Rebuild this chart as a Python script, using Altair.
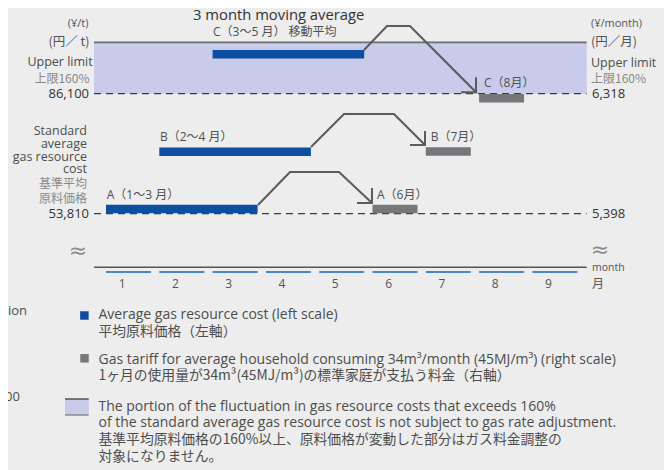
import altair as alt
import pandas as pd

# ---------------- data ----------------
months = [1, 2, 3, 4, 5, 6, 7, 8, 9]
month_labels = ["1", "2", "3", "4", "5", "6", "7", "8", "9"]

blue_names = ["A", "B", "C"]
blue_start = [1, 2, 3]
blue_end = [3, 4, 5]
blue_value = [55100, 70500, 96700]          # average gas resource cost, yen/t (left scale)

gray_names = ["A", "B", "C"]
gray_month = [6, 7, 8]
gray_value = [5434, 5875, 6283]             # gas tariff, yen/month (right scale)

std_left, limit_left = 53810, 86100
std_right, limit_right = 5398, 6318
frame_top_left = 99900

arrow_id = ["A"] * 4 + ["B"] * 4 + ["C"] * 4
arrow_order = [0, 1, 2, 3] * 3
arrow_month = [3.43, 4.03, 4.95, 5.568, 4.424, 5.043, 5.981, 6.563, 5.418, 5.85, 6.281, 7.52]
arrow_yen = [56150, 65030, 65030, 56690, 71760, 80640, 80640, 72300, 97860, 104320, 104320, 86480]

head_id = ["A"] * 3 + ["B"] * 3 + ["C"] * 3
head_order = [0, 1, 2] * 3
head_month = [5.287, 5.568, 5.568, 6.281, 6.563, 6.563, 7.238, 7.52, 7.52]
head_yen = [56690, 56690, 60725, 72300, 72300, 76060, 86480, 86480, 90510]

bar_label_text = ["A（1〜3 月）", "B（2〜4 月）", "C（3〜5 月） 移動平均",
                  "A（6月）", "B（7月）", "C（8月）"]
bar_label_month = [0.591, 1.591, 2.585, 5.662, 6.670, 7.670]
bar_label_yen = [58840, 74530, 102620, 58840, 74530, 88900]

title_text = "3 month moving average"
left_tick_text = ["86,100", "53,810"]
left_tick_value = [86100, 53810]
right_tick_text = ["6,318", "5,398"]
right_tick_value = [6318, 5398]

left_unit = ["(¥/t)", "(円／ t)"]
left_limit = ["Upper limit", "上限160%"]
left_std_en = ["Standard", "average", "gas resource", "cost"]
left_std_ja = ["基準平均", "原料価格"]
right_unit = ["(¥/month)", "(円／月)"]
right_limit = ["Upper limit", "上限160%"]
axis_unit = ["month", "月"]

legend_blue = ["Average gas resource cost (left scale)", "平均原料価格（左軸）"]
legend_gray = ["Gas tariff for average household consuming 34m³/month (45MJ/m³) (right scale)",
               "1ヶ月の使用量が34m³(45MJ/m³)の標準家庭が支払う料金（右軸）"]
legend_band = ["The portion of the fluctuation in gas resource costs that exceeds 160%",
               "of the standard average gas resource cost is not subject to gas rate adjustment.",
               "基準平均原料価格の160%以上、原料価格が変動した部分はガス料金調整の",
               "対象になりません。"]
cut_text = ["ation", "000"]

# ---------------- layout ----------------
W, H = 656, 462
FONT = "'Open Sans', 'Noto Sans CJK JP', sans-serif"
JFONT = "'Noto Sans CJK JP', sans-serif"
PX_PER_MONTH = 53.3
X_M1 = 120.5                                   # chart px of month-1 centre
XD0 = 1 - X_M1 / PX_PER_MONTH
XD1 = XD0 + W / PX_PER_MONTH
PPY = 120.0 / (limit_left - std_left)          # px per yen (left)
Y_STD = 205.7                                  # chart px of 53,810
YTOP = std_left + Y_STD / PPY
YBOT = std_left - (H - Y_STD) / PPY
XMIN, XMAX = 0.353, 9.597
HALF = 0.422

XS = alt.Scale(domain=[XD0, XD1], nice=False, zero=False)
YS = alt.Scale(domain=[YBOT, YTOP], nice=False, zero=False)

BLUE = "#0b4ea2"
GRAY = "#76777a"
LAV = "#c8cbe9"
LINE = "#5b5b5b"
TXT = "#4d4d4d"
LIGHT = "#8a8a8a"

to_left = f"{std_left} + (datum.r - {std_right}) * {(limit_left - std_left) / (limit_right - std_right)}"

def X(f):
    return alt.X(f, type="quantitative", scale=XS, axis=None)

def Y(f):
    return alt.Y(f, type="quantitative", scale=YS, axis=None)

def label(txt, x, y, size=12, color=TXT, align="left", baseline="middle", font=FONT):
    return alt.Chart(pd.DataFrame({"t": [txt]})).mark_text(
        align=align, baseline=baseline, fontSize=size, color=color, font=font
    ).encode(x=alt.value(x - 8), y=alt.value(y - 8), text="t:N")

layers = []

frame = pd.DataFrame({"x": [XMIN], "x2": [XMAX], "lo": [limit_left], "hi": [frame_top_left]})
layers.append(alt.Chart(frame).mark_rect(color=LAV).encode(x=X("x"), x2="x2", y=Y("lo"), y2="hi"))
layers.append(alt.Chart(frame).mark_rule(color="#6e6e6e", strokeWidth=1.6).encode(x=X("x"), x2="x2", y=Y("hi")))

dash = pd.DataFrame({"x": [XMIN, XMIN], "x2": [XMAX, XMAX], "v": [limit_left, std_left]})
layers.append(alt.Chart(dash).mark_rule(color="#3c3c3c", strokeWidth=1.2, strokeDash=[7, 5]).encode(
    x=X("x"), x2="x2", y=Y("v")))

blue = pd.DataFrame({"n": blue_names, "s": blue_start, "e": blue_end, "v": blue_value})
layers.append(alt.Chart(blue).transform_calculate(xs=f"datum.s - {HALF}", xe=f"datum.e + {HALF}")
              .mark_rule(color=BLUE, strokeWidth=8.5, strokeCap="butt")
              .encode(x=X("xs"), x2="xe", y=Y("v")))

gray = pd.DataFrame({"n": gray_names, "m": gray_month, "r": gray_value})
layers.append(alt.Chart(gray).transform_calculate(
    xs=f"datum.m - {HALF}", xe=f"datum.m + {HALF}", v=to_left)
    .mark_rule(color=GRAY, strokeWidth=8.5, strokeCap="butt")
    .encode(x=X("xs"), x2="xe", y=Y("v")))

arrows = pd.DataFrame({"id": arrow_id, "o": arrow_order, "m": arrow_month, "v": arrow_yen})
layers.append(alt.Chart(arrows).mark_line(color=LINE, strokeWidth=2).encode(
    x=X("m"), y=Y("v"), detail="id:N", order="o:Q"))
heads = pd.DataFrame({"id": head_id, "o": head_order, "m": head_month, "v": head_yen})
layers.append(alt.Chart(heads).mark_line(color=LINE, strokeWidth=2, strokeJoin="miter").encode(
    x=X("m"), y=Y("v"), detail="id:N", order="o:Q"))

bl = pd.DataFrame({"t": bar_label_text, "m": bar_label_month, "v": bar_label_yen})
layers.append(alt.Chart(bl).mark_text(align="left", baseline="middle", fontSize=12, color="#505050",
                                      font=FONT).encode(x=X("m"), y=Y("v"), text="t:N"))
layers.append(label(title_text, 193, 15.5, size=14.8, color="#333333"))

# bottom axis
ax = pd.DataFrame({"x": [XMIN], "x2": [XMAX]})
layers.append(alt.Chart(ax).mark_rule(color="#555555", strokeWidth=1.5).encode(
    x=X("x"), x2="x2", y=alt.value(267.3 - 8)))
mo = pd.DataFrame({"m": months, "t": month_labels})
layers.append(alt.Chart(mo).transform_calculate(xs=f"datum.m - {HALF}", xe=f"datum.m + {HALF}")
              .mark_rule(color="#4a86c8", strokeWidth=2).encode(x=X("xs"), x2="xe", y=alt.value(272 - 8)))
layers.append(alt.Chart(mo).transform_calculate(xl="datum.m - 0.12")
              .mark_text(fontSize=12, color="#555555", font=FONT, baseline="middle")
              .encode(x=X("xl"), y=alt.value(283.5 - 8), text="t:N"))

# tick value labels
lt = pd.DataFrame({"t": left_tick_text, "v": left_tick_value})
layers.append(alt.Chart(lt).mark_text(align="right", baseline="middle", fontSize=13, color="#333333",
                                      font=FONT).encode(x=alt.value(89 - 8), y=Y("v"), text="t:N"))
rt = pd.DataFrame({"t": right_tick_text, "r": right_tick_value})
layers.append(alt.Chart(rt).transform_calculate(v=to_left)
              .mark_text(align="left", baseline="middle", fontSize=13, color="#333333", font=FONT)
              .encode(x=alt.value(592 - 8), y=Y("v"), text="t:N"))

# side labels
layers += [
    label(left_unit[0], 88.5, 24, 11, "#555555", "right"),
    label(left_unit[1], 89.5, 41.5, 12.5, "#555555", "right", font=JFONT),
    label(left_limit[0], 92.7, 62.3, 12.5, TXT, "right"),
    label(left_limit[1], 89.5, 79, 12, LIGHT, "right", font=JFONT),
]
for t, yy in zip(left_std_en, [130.7, 143.8, 156.5, 168.6]):
    layers.append(label(t, 87, yy, 12.5, TXT, "right"))
for t, yy in zip(left_std_ja, [183.7, 199.3]):
    layers.append(label(t, 87, yy, 12, LIGHT, "right", font=JFONT))
layers += [
    label(right_unit[0], 591, 24, 11, "#555555"),
    label(right_unit[1], 591, 41.7, 12.5, "#555555", font=JFONT),
    label(right_limit[0], 591, 63.3, 12.5, TXT),
    label(right_limit[1], 591, 79, 12, LIGHT, font=JFONT),
    label(axis_unit[0], 592, 268.3, 10.5, "#555555"),
    label(axis_unit[1], 598, 284, 12, "#555555", "center", font=JFONT),
    label("≈", 78, 251, 22, "#8a8a8a", "center", font="'DejaVu Sans'"),
    label("≈", 600, 250, 22, "#8a8a8a", "center", font="'DejaVu Sans'"),
]

# legend
sq = pd.DataFrame({"k": [0]})
layers.append(alt.Chart(sq).mark_square(color=BLUE, size=72, opacity=1).encode(
    x=alt.value(84.4 - 8), y=alt.value(315.5 - 8)))
layers.append(alt.Chart(sq).mark_square(color=GRAY, size=72, opacity=1).encode(
    x=alt.value(84.5 - 8), y=alt.value(358.3 - 8)))
layers.append(alt.Chart(sq).mark_rect(color=LAV).encode(
    x=alt.value(65 - 8), x2=alt.value(88.7 - 8), y=alt.value(399 - 8), y2=alt.value(415 - 8)))
layers.append(alt.Chart(sq).mark_rule(color="#333333", strokeWidth=1.2).encode(
    x=alt.value(65 - 8), x2=alt.value(88.7 - 8), y=alt.value(399 - 8)))
layers.append(alt.Chart(sq).mark_rule(color="#777777", strokeWidth=1.2).encode(
    x=alt.value(65 - 8), x2=alt.value(88.7 - 8), y=alt.value(415 - 8)))

EN, JA = 14, 13.8
layers.append(label(legend_blue[0], 98.5, 315, EN, TXT))
layers.append(label(legend_blue[1], 98.5, 332.3, JA, TXT, font=JFONT))
layers.append(label(legend_gray[0], 98.5, 360, EN, TXT))
layers.append(label(legend_gray[1], 98.5, 376, JA, TXT, font=JFONT))
layers.append(label(legend_band[0], 98.5, 407.3, EN, TXT))
layers.append(label(legend_band[1], 98.5, 423.3, EN, TXT))
layers.append(label(legend_band[2], 98.5, 440, JA, TXT, font=JFONT))
layers.append(label(legend_band[3], 98.5, 456.5, JA, TXT, font=JFONT))
layers.append(label(cut_text[0], 27, 311, 13, TXT, "right"))
layers.append(label(cut_text[1], 20, 397, 13, TXT, "right"))

chart = alt.layer(*layers).properties(
    width=W, height=H, background="#ecedec", padding=0,
    autosize=alt.AutoSizeParams(type="none")
).configure_view(stroke=None)

chart.save("out.html", embed_options={"renderer": "svg", "actions": False})
